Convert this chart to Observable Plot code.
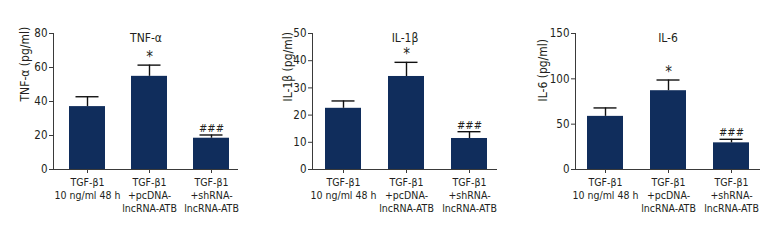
<!DOCTYPE html>
<html>
<head>
<meta charset="utf-8">
<script src="https://cdn.jsdelivr.net/npm/d3@7"></script>
<script src="https://cdn.jsdelivr.net/npm/@observablehq/plot@0.6"></script>
<style>
  html, body { margin: 0; padding: 0; background: #fff; }
  #wrap { display: flex; width: 780px; height: 240px; }
  #wrap svg, #wrap svg text { font-stretch: condensed; }
</style>
</head>
<body>
<div id="wrap"></div>
<script>
const categories = [
  "TGF-β1\n10 ng/ml 48 h",
  "TGF-β1\n+pcDNA-\nlncRNA-ATB",
  "TGF-β1\n+shRNA-\nlncRNA-ATB"
];
const significance = ["", "*", "###"];

const tnfValues = [37.0, 54.8, 18.4];
const tnfErrors = [5.8, 6.6, 1.9];
const tnfTicks = [0, 20, 40, 60, 80];

const il1bValues = [22.5, 34.2, 11.4];
const il1bErrors = [2.7, 5.2, 2.5];
const il1bTicks = [0, 10, 20, 30, 40, 50];

const il6Values = [58.6, 86.9, 29.4];
const il6Errors = [9.3, 11.8, 3.9];
const il6Ticks = [0, 50, 100, 150];

const FONT = "'DejaVu Sans Condensed', 'DejaVu Sans', sans-serif";
const BAR = "#102d5c";
const INK = "#231f20";
const AXIS = "#3a3a3a";

function panel({title, ylabel, values, errors, ticks, marginLeft, marginRight, barRange, labelX}) {
  const data = categories.map((c, i) => ({cat: c, value: values[i], hi: values[i] + errors[i], sig: significance[i]}));
  return Plot.plot({
    width: 260,
    height: 240,
    marginTop: 33,
    marginBottom: 71,
    marginLeft,
    marginRight,
    style: {fontFamily: FONT, fontSize: "11px", color: INK, background: "white"},
    x: {domain: categories, range: barRange, paddingInner: 0.424, paddingOuter: 0, label: null},
    y: {domain: [ticks[0], ticks[ticks.length - 1]], label: null},
    marks: [
      Plot.barY(data, {x: "cat", y: "value", fill: BAR}),
      Plot.ruleX(data, {x: "cat", y1: "value", y2: "hi", stroke: "#111", strokeWidth: 1.4}),
      Plot.tickY(data, {x: "cat", y: "hi", stroke: "#111", strokeWidth: 1.4, insetLeft: 6.5, insetRight: 6.5}),
      Plot.text(data, {x: "cat", y: "hi", text: "sig", lineAnchor: "bottom", dy: -3, fill: INK,
        fontSize: d => d.sig === "*" ? 15 : 11, fontFamily: FONT}),
      Plot.frame({anchor: "left", stroke: AXIS}),
      Plot.ruleY([ticks[0]], {stroke: AXIS}),
      Plot.axisY({ticks, tickSize: 4, tickPadding: 2, label: null, stroke: AXIS, fontSize: 11.5, fill: INK}),
      Plot.axisX({tickSize: 4, tickPadding: 3, label: null, stroke: AXIS, fontSize: 10.5, lineHeight: 1.24, fill: INK}),
      Plot.text([title], {frameAnchor: "top", text: d => d, fontSize: 12, fill: INK, fontFamily: FONT}),
      Plot.text([ylabel], {frameAnchor: "left", text: d => d, rotate: -90, dx: labelX - marginLeft, fontSize: 12, fill: INK, fontFamily: FONT})
    ]
  });
}

const wrap = document.getElementById("wrap");
wrap.appendChild(panel({title: "TNF-α", ylabel: "TNF-α (pg/ml)", values: tnfValues, errors: tnfErrors, ticks: tnfTicks,
  marginLeft: 53, marginRight: 22, barRange: [68.3, 229.3], labelX: 25}));
wrap.appendChild(panel({title: "IL-1β", ylabel: "IL-1β (pg/ml)", values: il1bValues, errors: il1bErrors, ticks: il1bTicks,
  marginLeft: 52, marginRight: 23, barRange: [65, 227.3], labelX: 28}));
wrap.appendChild(panel({title: "IL-6", ylabel: "IL-6 (pg/ml)", values: il6Values, errors: il6Errors, ticks: il6Ticks,
  marginLeft: 55, marginRight: 20, barRange: [66.7, 229], labelX: 23}));
</script>
</body>
</html>
